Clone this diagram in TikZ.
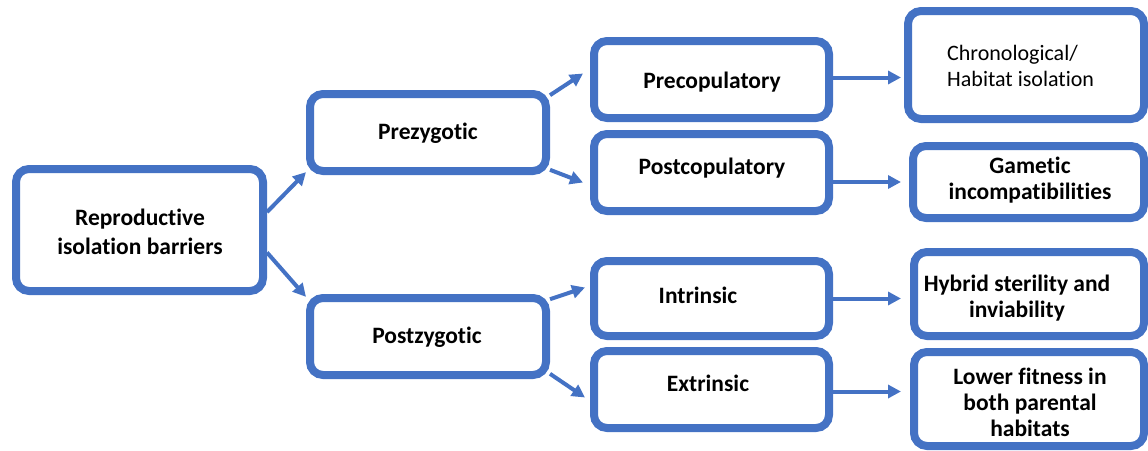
\documentclass[tikz,border=0pt]{standalone}
\usepackage{fontspec}
\setmainfont{Carlito}[Ligatures=NoCommon]
\usetikzlibrary{arrows.meta,calc}
\definecolor{obl}{HTML}{4472C4}
\begin{document}
\begin{tikzpicture}[x=1pt,y=-1pt,
  box/.style={draw=obl, line width=8pt, rounded corners=13pt, fill=white, inner sep=0pt},
  lbl/.style={font=\fontsize{23.5}{26}\selectfont\bfseries, align=center, inner sep=0pt},
  plain/.style={font=\fontsize{22}{26}\selectfont, align=left, inner sep=0pt},
  arr/.style={draw=obl, line width=4pt, -{Triangle[length=13pt,width=13pt]}}]
\useasboundingbox (0,0) rectangle (1148,450);
% boxes
\node[box, minimum width=247pt, minimum height=122pt] (root) at (139.5,230) {};
\node[box, minimum width=236pt, minimum height=77pt] (prez) at (428,132.5) {};
\node[box, minimum width=236pt, minimum height=77pt] (postz) at (428,336.5) {};
\node[box, minimum width=235pt, minimum height=77pt] (prec) at (711.5,79.5) {};
\node[box, minimum width=235pt, minimum height=77pt] (postc) at (711.5,172.5) {};
\node[box, minimum width=235pt, minimum height=75pt] (intr) at (711.5,298.5) {};
\node[box, minimum width=235pt, minimum height=77pt] (extr) at (711.5,389.5) {};
\node[box, minimum width=236pt, minimum height=108pt] (chrono) at (1026,65) {};
\node[box, minimum width=231pt, minimum height=72pt] (gam) at (1028.5,182) {};
\node[box, minimum width=230pt, minimum height=84pt] (hyb) at (1029,294) {};
\node[box, minimum width=230pt, minimum height=94pt] (low) at (1029,399) {};
% texts
\node[lbl, font=\fontsize{23.5}{29}\selectfont\bfseries] (troot) at (140,232) {Reproductive\\isolation barriers};
\node[lbl] (tprez) at (428,133) {Prezygotic};
\node[lbl] (tpostz) at (427,337) {Postzygotic};
\node[lbl] (tprec) at (712,82) {Precopulatory};
\node[lbl] (tpostc) at (712,168) {Postcopulatory};
\node[lbl] (tintr) at (698,295) {Intrinsic};
\node[lbl] (textr) at (708,383) {Extrinsic};
\node[plain, anchor=west] (tchrono) at (947,66) {Chronological/\\Habitat isolation};
\node[lbl] (tgam) at (1030,180) {Gametic\\incompatibilities};
\node[lbl] (thyb) at (1017,298) {Hybrid sterility and\\inviability};
\node[lbl] (tlow) at (1030,402) {Lower fitness in\\both parental\\habitats};
% connectors
\draw[arr] (root.8) -- (prez.198);
\draw[arr] (root.-10) -- (postz.162);
\draw[arr] (prez.17) -- ($(prec.west)+(-7,-6)$);
\draw[arr] (prez.-17) -- ($(postc.west)+(-7,10)$);
\draw[arr] (postz.17) -- ($(intr.west)+(-5,-11)$);
\draw[arr] (postz.-17) -- ($(extr.west)+(-5,8)$);
\draw[arr, shorten >=3pt] ($(prec.east)+(0,-2)$) -- ($(prec.east -| chrono.west)+(0,-2)$);
\draw[arr, shorten >=8pt] (gam.west -| postc.east) -- (gam.west);
\draw[arr, shorten >=9pt] (intr.east) -- (intr.east -| hyb.west);
\draw[arr, shorten >=9pt] ($(extr.east)+(0,2)$) -- ($(extr.east -| low.west)+(0,2)$);
\end{tikzpicture}
\end{document}
